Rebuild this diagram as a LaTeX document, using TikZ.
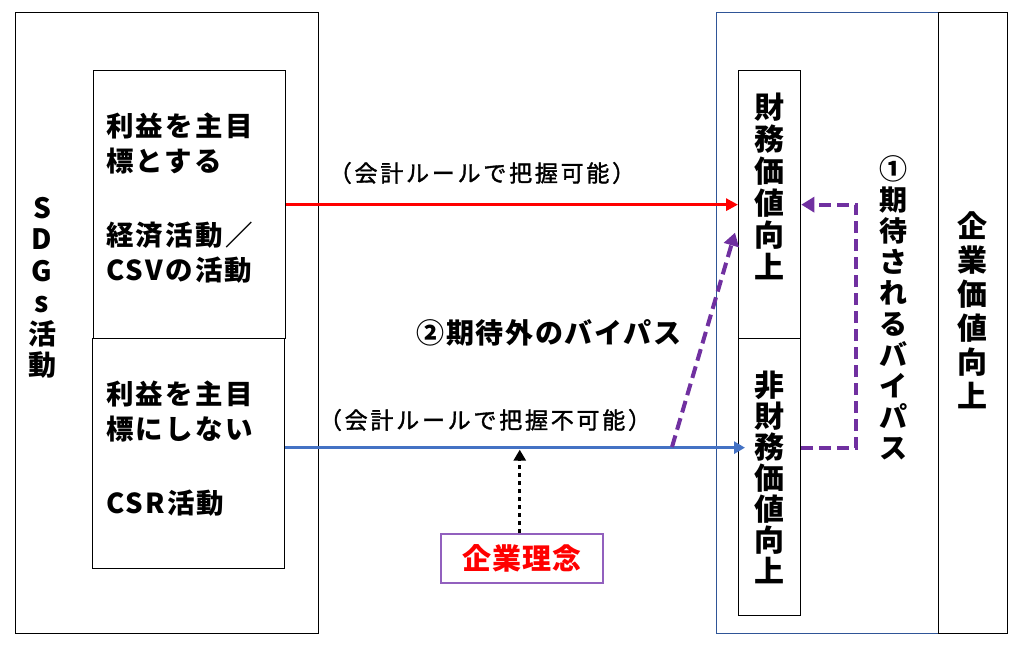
\documentclass[tikz,border=0pt]{standalone}
\usepackage{fontspec}
\setmainfont{Noto Sans CJK JP}
\usetikzlibrary{arrows.meta}
\definecolor{myred}{RGB}{255,0,0}
\definecolor{myblue}{RGB}{68,114,196}
\definecolor{mypurple}{RGB}{112,48,160}
\definecolor{boxblue}{RGB}{47,85,151}
\definecolor{lilac}{RGB}{146,96,190}
\tikzset{
  frame/.style={draw, line width=1.3pt, inner sep=0pt, anchor=north west},
  boxtxt/.style={font={\bfseries\fontsize{27.5}{35}\selectfont\addfontfeatures{LetterSpace=8}}, align=left, inner sep=0pt, anchor=north west},
  vtxt/.style={font={\bfseries\fontsize{30}{32}\selectfont}, align=center, inner sep=0pt},
  lbl/.style={font={\fontsize{23}{26}\selectfont\addfontfeatures{LetterSpace=12,FakeBold=1.5}}, inner sep=0pt},
  blbl/.style={font={\bfseries\fontsize{28}{30}\selectfont\addfontfeatures{LetterSpace=6}}, inner sep=0pt},
  pdash/.style={mypurple, line width=4pt, dash pattern=on 12pt off 6pt, -{Triangle[length=13pt,width=15pt]}},
}
\begin{document}
\begin{tikzpicture}[x=1pt,y=-1pt]
\useasboundingbox (0,0) rectangle (1019,647);
% boxes
\node[frame, minimum width=303pt, minimum height=621pt] (sdgs) at (15,12) {};
\node[frame, minimum width=192pt, minimum height=268pt] (ib1) at (93,70) {};
\node[frame, minimum width=192pt, minimum height=230pt] (ib2) at (92,338) {};
\node[frame, draw=boxblue, line width=1pt, minimum width=222pt, minimum height=621pt] (rb) at (716,12) {};
\node[frame, minimum width=69pt, minimum height=621pt] (eb) at (938,12) {};
\node[frame, minimum width=62pt, minimum height=268pt] (fin) at (738,70) {};
\node[frame, minimum width=62pt, minimum height=277pt] (nf) at (738,338) {};
\node[frame, draw=lilac, line width=1.5pt, minimum width=162pt, minimum height=49pt] (kr) at (440,533) {};
% texts
\node[vtxt, font={\bfseries\fontsize{28}{31.5}\selectfont}] (sdgst) at (42,288) {S\\D\\G\\s\\活\\動};
\node[boxtxt] (ib1t) at (106,113) {利益を主目\\標とする\\[39pt]経済活動／\\CSVの活動};
\node[boxtxt] (ib2t) at (106,381) {利益を主目\\標にしない\\[39pt]CSR活動};
\node[vtxt] (fint) at (769,186) {財\\務\\価\\値\\向\\上};
\node[vtxt, font={\bfseries\fontsize{30}{31}\selectfont}] (nft) at (769,477) {非\\財\\務\\価\\値\\向\\上};
\node[vtxt, font={\bfseries\fontsize{28}{31}\selectfont}] (byp1) at (893,308) {①\\期\\待\\さ\\れ\\る\\バ\\イ\\パ\\ス};
\node[vtxt, font={\bfseries\fontsize{30}{34}\selectfont}] (ebt) at (972,310) {企\\業\\価\\値\\向\\上};
\node[lbl] (l1) at (482,173) {（会計ルールで把握可能）};
\node[lbl] (l2) at (485,420) {（会計ルールで把握不可能）};
\node[blbl] (byp2) at (549,333) {②期待外のバイパス};
\node[blbl, text=myred, font={\bfseries\fontsize{29}{30}\selectfont\addfontfeatures{LetterSpace=4}}] (krt) at (kr.center) {企業理念};
% connectors
\draw[myred, line width=3.5pt, -{Triangle[length=12pt,width=12pt]}] (ib1.east) -- (fin.west);
\coordinate (bs) at ([yshift=6pt]ib2.east);
\coordinate (bx) at (bs -| nf.west);
\draw[myblue, line width=3.5pt, -{Triangle[length=11pt,width=12pt]}] (bs) -- ([xshift=7pt]bx);
\coordinate (ps) at (672,447);
\draw[pdash] (ps) -- ([shift={(-3,28)}]fin.west);
\draw[pdash] ([yshift=29pt]nf.east) -- ++(55,0) |- (fin.east);
\coordinate (kt) at ([xshift=-2pt]kr.north);
\draw[line width=3pt, dash pattern=on 4pt off 4pt, -{Triangle[length=11pt,width=12pt]}] (kt) -- ([yshift=-2pt]kt |- bs);
\end{tikzpicture}
\end{document}
